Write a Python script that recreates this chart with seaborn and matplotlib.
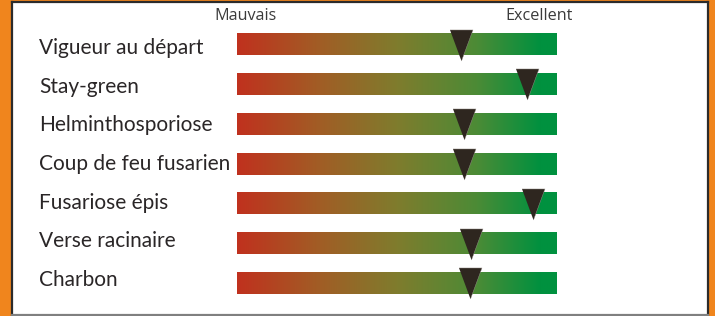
import seaborn as sns
import matplotlib.pyplot as plt, numpy as np
import pandas as pd
from matplotlib.colors import LinearSegmentedColormap
from matplotlib.transforms import blended_transform_factory

criteres = ['Vigueur au départ', 'Stay-green', 'Helminthosporiose',
            'Coup de feu fusarien', 'Fusariose épis', 'Verse racinaire', 'Charbon']
notes = [7.0, 9.05, 7.08, 7.1, 9.25, 7.3, 7.28]   # sur 10
echelle = ['Mauvais', 'Excellent']

sns.set_theme(style='white')
plt.rcParams['font.family'] = ['Lato', 'DejaVu Sans']

df = pd.DataFrame({'critere': criteres, 'note': notes, 'rang': range(len(criteres))})

cmap = LinearSegmentedColormap.from_list('mv', [
    (0.0, '#C0311E'), (0.25, '#A25C25'), (0.5, '#7F7C2D'),
    (0.75, '#4C8B36'), (0.95, '#00913F'), (1.0, '#00913F')])

fig = plt.figure(figsize=(7.15, 3.16), dpi=100, facecolor='#F0851D')

# cadre blanc
cadre = fig.add_axes([12/715, 1/316, 696/715, 313/316])
cadre.set_xticks([]); cadre.set_yticks([])
cadre.set_facecolor('white')
for s in ['left', 'top', 'right']:
    cadre.spines[s].set_color('#2b2b2b'); cadre.spines[s].set_linewidth(1.6)
cadre.spines['bottom'].set_color('#808080'); cadre.spines['bottom'].set_linewidth(1.6)

ax = fig.add_axes([237/715, 1 - 303.4/316, 320/715, 278.8/316])
ax.set_facecolor('none')
grad = np.linspace(0, 1, 256).reshape(1, -1)
h = 0.53
for r in df.rang:
    ax.imshow(grad, extent=[0, 10, r + h/2, r - h/2], aspect='auto', cmap=cmap, zorder=1)

tri = [(-0.37, 0.5), (0.37, 0.5), (0, -0.5)]
sns.scatterplot(data=df, x='note', y='rang', marker=tri, s=500, color='#2E261F',
                edgecolor='#9a948e', linewidth=0.3, ax=ax, zorder=3, legend=False)

ax.set_xlim(0, 10)
ax.set_ylim(len(criteres) - 0.5, -0.5)
ax.axis('off')

# libellés alignés à gauche (x en pixels de la figure)
tl = blended_transform_factory(fig.transFigure, ax.transData)
for r, c in zip(df.rang, df.critere):
    dy = (3.5 - 1.17 * r) / 39.8
    ax.text(39/715, r + dy, c, ha='left', va='center', fontsize=15,
            color='#2a2627', transform=tl, clip_on=False)

th = blended_transform_factory(ax.transData, fig.transFigure)
for xpos, t in zip([0.27, 9.44], echelle):
    ax.text(xpos, 1 - 16/316, t, ha='center', va='center', fontsize=11.6,
            family=['Open Sans', 'DejaVu Sans'], color='#3a3a3a', transform=th)

plt.savefig('out.png', dpi=100, facecolor=fig.get_facecolor())
plt.close()
